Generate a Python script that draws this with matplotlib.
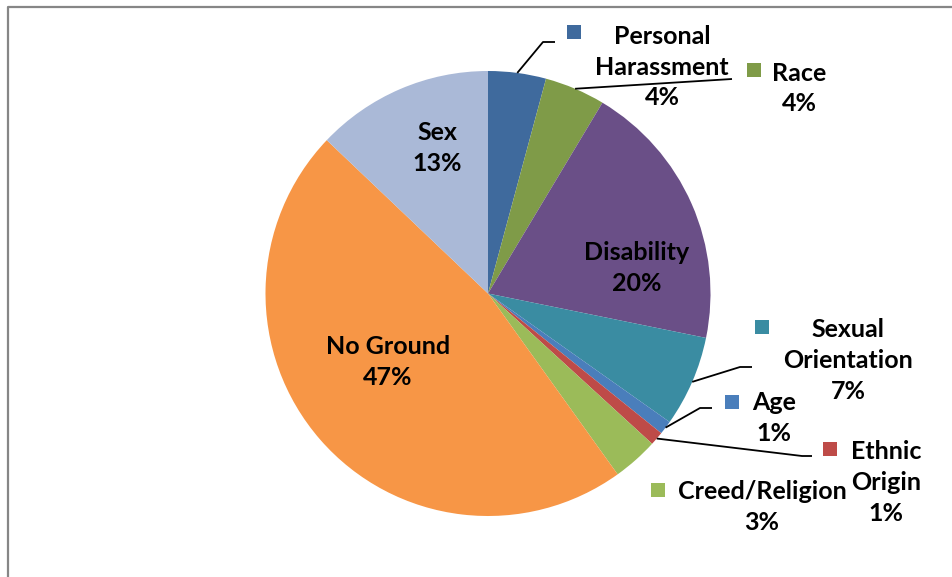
import matplotlib
matplotlib.use("Agg")
import matplotlib.pyplot as plt
from matplotlib.patches import Rectangle
from matplotlib.lines import Line2D
import numpy as np

# --- Data (share of complaints by ground, %) ---
grounds = ["Personal\nHarassment", "Race", "Disability", "Sexual\nOrientation",
           "Age", "Ethnic\nOrigin", "Creed/Religion", "No Ground", "Sex"]
shares = [4.2, 4.4, 19.6, 6.6, 1.0, 1.0, 3.3, 47.0, 12.9]
colors = ["#3F6A9D", "#7F9B48", "#6A4F87", "#3A8CA2", "#4A7EBB",
          "#BE4B48", "#9BBB59", "#F79646", "#AAB9D7"]

# --- Label layout (image pixel coords, y down) ---
W, H = 953, 577
cx, cy, R = 488, 293.5, 222.5
label_pos = [(662, 67), (799, 88.5), (637, 268), (848, 360.5), (774, 418),
             (886, 482.5), (762, 507), (388, 362), (437, 148)]
key_pos = [(574.5, 31.5), (754.5, 69.5), None, (762, 327), (732.5, 402),
           (830.5, 449), (658, 490), None, None]
# leader line bends: list of points after the arc anchor
leaders = [[(543, 42), (555, 42)], [(732, 79)], None, [(740, 367), (752, 367)],
           [(700, 408), (712, 408)], [(802, 456), (812, 456)], None, None, None]

fig = plt.figure(figsize=(W / 100, H / 100), dpi=100)
ax = fig.add_axes([0, 0, 1, 1])

wedges, _ = ax.pie(shares, colors=colors, startangle=-90, counterclock=True,
                   center=(cx, cy), radius=R, wedgeprops=dict(linewidth=0))
ax.set_xlim(0, W)
ax.set_ylim(H, 0)
ax.axis("off")

font = dict(family=["Lato", "DejaVu Sans"], fontsize=18, fontweight="bold",
            color="black", ha="center", va="center", linespacing=1.42)

for i, (name, v) in enumerate(zip(grounds, shares)):
    x, y = label_pos[i]
    ax.text(x, y, f"{name}\n{round(v)}%", **font)
    if key_pos[i] is not None:
        kx, ky = key_pos[i]
        ax.add_patch(Rectangle((kx - 7, ky - 7), 14, 14, color=colors[i], lw=0))
    if leaders[i] is not None:
        w = wedges[i]
        mid = np.deg2rad((w.theta1 + w.theta2) / 2)
        ax_pt = (cx + R * np.cos(mid), cy + R * np.sin(mid))
        pts = [ax_pt] + leaders[i]
        ax.plot([p[0] for p in pts], [p[1] for p in pts], color="black", lw=1.3,
                solid_capstyle="butt")

# chart frame (only top and left edges visible in crop)
ax.add_line(Line2D([8, 8, W + 5], [H + 5, 6.5, 6.5], color="#868686", lw=1.6))

fig.savefig("out.png", dpi=100)
